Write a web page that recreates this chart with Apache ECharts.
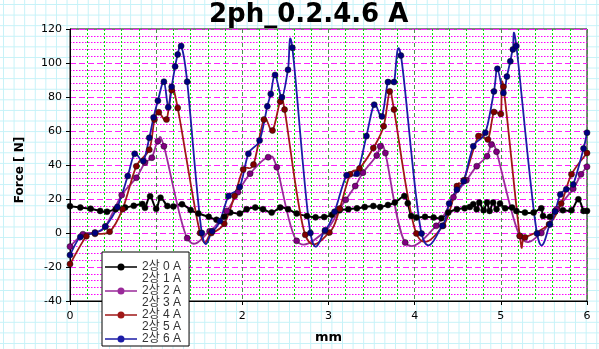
<!DOCTYPE html>
<html><head><meta charset="utf-8">
<script src="https://cdn.jsdelivr.net/npm/echarts@6/dist/echarts.min.js"></script>
<style>
html,body{margin:0;padding:0;background:#fff;}
#c{width:599px;height:349px;background-color:#fff;
background-image:linear-gradient(#c6f2f8 1px,transparent 1px),linear-gradient(90deg,#c6f2f8 1px,transparent 1px);
background-size:10.6px 10.6px;background-position:3px 4px;}
</style></head><body><div id="c"></div>
<script>
const titleText = '2ph_0.2.4.6 A';
const xAxisName = 'mm';
const yAxisName = 'Force [ N]';
const seriesNames = ['2상 0 A', '2상 1 A', '2상 2 A', '2상 3 A', '2상 4 A', '2상 5 A', '2상 6 A'];

// [mm, N]
const force0A = [[0.00,15.8],[0.12,15],[0.24,14.3],[0.35,13],[0.43,12.5],[0.53,14],[0.64,15],[0.74,16],[0.84,17],[0.87,14.8],[0.93,21.6],[1.00,14.2],[1.05,20.8],[1.13,15.9],[1.20,15.6],[1.30,16.9],[1.40,13.5],[1.49,11.5],[1.61,9.5],[1.70,7.8],[1.79,9.5],[1.86,12],[1.97,11.4],[2.05,14],[2.15,15],[2.24,14],[2.34,12],[2.44,15],[2.53,14],[2.63,11.4],[2.75,10],[2.85,9.2],[2.95,9.4],[3.04,10.7],[3.13,13.4],[3.23,14],[3.33,14.5],[3.42,15.3],[3.52,15.9],[3.60,15.3],[3.69,16.5],[3.77,17.9],[3.88,21.7],[3.92,17.5],[3.96,10],[4.02,9.1],[4.12,9.5],[4.22,9.1],[4.31,8.7],[4.39,12],[4.49,14],[4.58,14.5],[4.64,15.3],[4.68,16.9],[4.72,14],[4.75,17.9],[4.80,13.4],[4.84,17.9],[4.87,13],[4.91,17.9],[4.95,14],[4.99,17.3],[5.05,14.5],[5.13,15],[5.18,13],[5.28,12],[5.38,12],[5.47,14.5],[5.49,10],[5.57,9.5],[5.63,13],[5.72,13.4],[5.82,13.4],[5.90,19.8],[5.96,13],[6.00,13]];
const force1A = [];
const force2A = [[0,-8],[0.15,-0.7],[0.29,0.3],[0.41,3.8],[0.60,22.3],[0.77,32.5],[0.87,41.4],[0.95,44.3],[1.02,54],[1.09,51],[1.36,-3],[1.62,1],[1.82,13],[1.95,24],[2.09,34.9],[2.30,44.6],[2.40,38.7],[2.63,-4.6],[2.96,1],[3.13,14.3],[3.20,19.5],[3.31,27.6],[3.40,35.5],[3.56,45.6],[3.60,51],[3.66,47],[3.89,-5.6],[4.25,4.2],[4.45,21],[4.60,31],[4.72,39.3],[4.84,45.2],[4.89,52],[4.95,47.8],[5.22,-1.7],[5.47,0],[5.65,14],[5.84,26],[5.93,34.5],[6.00,39]];
const force3A = [];
const force4A = [[0,-18.3],[0.19,-1.9],[0.29,-0.5],[0.46,0.8],[0.61,14],[0.77,39.3],[0.92,49],[0.98,66.7],[1.03,71],[1.12,66.7],[1.18,84],[1.25,73.6],[1.51,0],[1.64,0],[1.79,5.5],[1.91,21.7],[2.01,37.4],[2.13,40.3],[2.25,66.7],[2.35,60.3],[2.44,77.4],[2.49,72.6],[2.73,-1.1],[3.01,0.3],[3.13,14.3],[3.25,34.5],[3.36,38],[3.52,50],[3.64,62.8],[3.71,83.3],[3.76,72.6],[4.02,-0.3],[4.33,4.2],[4.49,27.6],[4.57,31],[4.74,57],[4.85,55],[4.92,71.2],[5.00,70],[5.03,86],[5.22,-1.7],[5.28,-2.6],[5.56,5.2],[5.70,17.3],[5.82,34.5],[6.00,47]];
const force5A = [];
const force6A = [[0,-13],[0.12,-2.3],[0.29,0],[0.41,3.8],[0.55,15.3],[0.67,33.5],[0.75,46.6],[0.85,42.3],[0.92,56],[0.97,68],[1.02,77.8],[1.09,89],[1.14,74],[1.18,86],[1.22,98],[1.25,105],[1.29,110],[1.36,89],[1.53,0],[1.65,1],[1.74,7],[1.84,21.7],[1.97,27],[2.07,46.6],[2.20,54.4],[2.29,74.5],[2.33,81.8],[2.38,93],[2.46,79.8],[2.53,96],[2.58,109],[2.79,0],[2.96,1.6],[3.07,12.5],[3.21,34],[3.33,34.9],[3.44,57],[3.53,75.5],[3.62,68.6],[3.69,88.8],[3.76,88.8],[3.84,104.4],[4.08,-0.3],[4.32,4.2],[4.40,17.3],[4.49,25.5],[4.57,30.5],[4.68,51],[4.82,59],[4.92,83.3],[4.96,96.6],[5.03,82.4],[5.07,92],[5.11,101],[5.14,108],[5.18,110],[5.42,-0.3],[5.57,5],[5.63,12.6],[5.69,22.7],[5.76,25.7],[5.84,28.6],[5.96,49.7],[6.00,59]];

const seriesData = [force0A, force1A, force2A, force3A, force4A, force5A, force6A];
const lineColors = ['#000000', '#9a2a9a', '#9a2a9a', '#a01818', '#a01818', '#1c1ca6', '#1c1ca6'];
const markColors = ['#000000', '#800080', '#800080', '#800000', '#800000', '#000080', '#000080'];
const lineWidths = [2, 1.8, 1.8, 1.8, 1.8, 1.8, 1.8];

// smooth (spline) curve through the data points, positioned by the axes via api.coord
function curveRenderer(points, color, width) {
  return function (params, api) {
    const n = points.length, i = params.dataIndex;
    if (i >= n - 1) return null;
    const c = k => api.coord(points[Math.max(0, Math.min(n - 1, k))]);
    const p0 = c(i - 1), p1 = c(i), p2 = c(i + 1), p3 = c(i + 2);
    return {
      type: 'bezierCurve',
      silent: true,
      shape: {
        x1: p1[0], y1: p1[1], x2: p2[0], y2: p2[1],
        cpx1: p1[0] + (p2[0] - p0[0]) / 6, cpy1: p1[1] + (p2[1] - p0[1]) / 6,
        cpx2: p2[0] - (p3[0] - p1[0]) / 6, cpy2: p2[1] - (p3[1] - p1[1]) / 6
      },
      style: { stroke: color, lineWidth: width, fill: null }
    };
  };
}

const legendIcon = 'path://M0,2.8H12.7V4.2H0Z M19.3,2.8H32V4.2H19.3Z M19.5,3.5A3.5,3.5,0,1,1,12.5,3.5A3.5,3.5,0,1,1,19.5,3.5Z';

const series = [];
seriesNames.forEach((nm, k) => {
  const pts = seriesData[k];
  series.push({
    type: 'custom', name: nm, data: pts, encode: { x: 0, y: 1 },
    renderItem: curveRenderer(pts, lineColors[k], lineWidths[k]), clip: true,
    itemStyle: { color: lineColors[k] }, animation: false, z: 2
  });
  series.push({
    type: 'scatter', name: nm, data: pts, symbol: 'circle', symbolSize: 6,
    itemStyle: { color: markColors[k], borderColor: '#111', borderWidth: 0.5, opacity: 1 },
    animation: false, z: 2
  });
});

const chart = echarts.init(document.getElementById('c'), null, { renderer: 'canvas' });
chart.setOption({
  animation: false,
  title: {
    text: titleText, left: 204, top: -3,
    textStyle: { fontFamily: 'DejaVu Sans', fontWeight: 'bold', fontSize: 26, color: '#000' }
  },
  grid: { left: 70, right: 12, top: 29, bottom: 47, show: true, backgroundColor: '#fff', borderColor: '#000', borderWidth: 1 },
  legend: {
    orient: 'vertical', left: 102, top: 252, itemWidth: 32, itemHeight: 7, itemGap: 0,
    padding: [9, 8, 1, 3], backgroundColor: '#fff', borderColor: '#000', borderWidth: 1, borderRadius: 0,
    selectedMode: false,
    textStyle: { fontSize: 12, lineHeight: 11.3, color: '#333', fontFamily: 'Liberation Sans, Noto Sans CJK KR' },
    data: seriesNames.map((nm, k) => ({ name: nm, icon: (k % 2) ? 'none' : legendIcon }))
  },
  xAxis: {
    type: 'value', min: 0, max: 6, interval: 1,
    name: xAxisName, nameLocation: 'middle', nameGap: 30,
    nameTextStyle: { fontFamily: 'DejaVu Sans', fontWeight: 'bold', fontSize: 13, color: '#000' },
    axisLine: { show: true, onZero: false, lineStyle: { color: '#000', width: 1 } },
    axisTick: { show: true, length: 4, lineStyle: { color: '#000' } },
    axisLabel: { fontFamily: 'DejaVu Sans', fontSize: 11, color: '#000', margin: 10 },
    splitLine: { show: true, lineStyle: { color: '#4a944a', type: [4, 3], width: 1 } },
    minorTick: { show: false, splitNumber: 5 },
    minorSplitLine: { show: true, lineStyle: { color: '#00e000', type: [2, 2], width: 1 } }
  },
  yAxis: {
    type: 'value', min: -40, max: 120, interval: 20,
    name: yAxisName, nameLocation: 'middle', nameRotate: 90, nameGap: 44,
    nameTextStyle: { fontFamily: 'DejaVu Sans', fontWeight: 'bold', fontSize: 12, color: '#000', padding: [0, 10, 0, 0] },
    axisLine: { show: true, lineStyle: { color: '#000', width: 1 } },
    axisTick: { show: true, length: 4, lineStyle: { color: '#000' } },
    axisLabel: { fontFamily: 'DejaVu Sans', fontSize: 11, color: '#000', margin: 8 },
    splitLine: { show: true, lineStyle: { color: '#ff22ff', type: [6, 3], width: 1 } },
    minorTick: { show: false, splitNumber: 5 },
    minorSplitLine: { show: true, lineStyle: { color: '#ff00ff', type: [1.5, 1.5], width: 1 } }
  },
  series: series
});
</script></body></html>
